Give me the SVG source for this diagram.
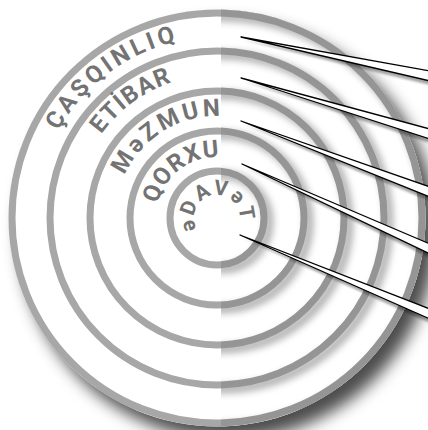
<svg xmlns="http://www.w3.org/2000/svg" width="428" height="430" viewBox="0 0 428 430">
<defs>
<style>
.ring{fill:none;stroke:#a7a7a7;stroke-width:7}
.ringR{fill:none;stroke:#959595;stroke-width:7}
.ringS{fill:none;stroke:#000;stroke-opacity:.3;stroke-width:9}
.lbl{font-family:Roboto,"Open Sans","DejaVu Sans",sans-serif;font-weight:700;fill:#737373}
.needle{fill:#fff;stroke:#000;stroke-width:1.3;stroke-linejoin:round}
</style>
<filter id="blur6" x="-20%" y="-20%" width="140%" height="140%"><feGaussianBlur stdDeviation="8"/></filter>
<filter id="blur3" x="-20%" y="-20%" width="140%" height="140%"><feGaussianBlur stdDeviation="3.5"/></filter>
<filter id="nsh" x="-5%" y="-50%" width="110%" height="200%"><feGaussianBlur stdDeviation="1.2"/></filter>
<clipPath id="rightHalf"><rect x="221" y="0" width="220" height="430"/></clipPath>
<clipPath id="diskClip"><circle cx="217" cy="218" r="208.5"/></clipPath>
<path id="p1" d="M217,399 A181,181 0 1 1 217,37 A181,181 0 1 1 217,399"/>
<path id="p2" d="M217,361 A143,143 0 1 1 217,75 A143,143 0 1 1 217,361"/>
<path id="p3" d="M217,320 A102,102 0 1 1 217,116 A102,102 0 1 1 217,320"/>
<path id="p4" d="M217,279 A61,61 0 1 1 217,157 A61,61 0 1 1 217,279"/>
<path id="p5" d="M217,241 A23,23 0 1 1 217,195 A23,23 0 1 1 217,241"/>
</defs>
<rect width="428" height="430" fill="#fff"/>
<g id="disk">
<circle cx="228" cy="231" r="208.5" fill="#000" fill-opacity=".7" filter="url(#blur6)"/>
<circle cx="217" cy="218" r="208.5" fill="#fff"/>
</g>
<g id="rings">
<g id="rings-left">
<circle class="ring" cx="217" cy="218" r="47"/>
<circle class="ring" cx="217" cy="218" r="87"/>
<circle class="ring" cx="217" cy="218" r="127"/>
<circle class="ring" cx="217" cy="218" r="167"/>
<circle class="ring" cx="217" cy="218" r="205"/>
</g>
<g id="rings-right" clip-path="url(#rightHalf)">
<rect x="221" y="0" width="210" height="430" fill="#fff" clip-path="url(#diskClip)"/>
<g clip-path="url(#diskClip)">
<g filter="url(#blur3)" transform="translate(5,4)">
<circle class="ringS" cx="217" cy="218" r="47"/>
<circle class="ringS" cx="217" cy="218" r="87"/>
<circle class="ringS" cx="217" cy="218" r="127"/>
<circle class="ringS" cx="217" cy="218" r="167"/>
<circle class="ringS" cx="217" cy="218" r="205"/>
</g>
</g>
<circle class="ringR" cx="217" cy="218" r="47"/>
<circle class="ringR" cx="217" cy="218" r="87"/>
<circle class="ringR" cx="217" cy="218" r="127"/>
<circle class="ringR" cx="217" cy="218" r="167"/>
<circle class="ringR" cx="217" cy="218" r="205"/>
</g>
</g>
<g id="label-casqinliq"><text class="lbl" font-size="24"><textPath href="#p1" startOffset="375" textLength="152" lengthAdjust="spacing">ÇAŞQINLIQ</textPath></text></g>
<g id="label-etibar"><text class="lbl" font-size="24"><textPath href="#p2" startOffset="314" textLength="89" lengthAdjust="spacing">ETİBAR</textPath></text></g>
<g id="label-mezmun"><text class="lbl" font-size="24"><textPath href="#p3" startOffset="204" textLength="119" lengthAdjust="spacing">MəZMUN</textPath></text></g>
<g id="label-qorxu"><text class="lbl" font-size="24" letter-spacing="1"><textPath href="#p4" startOffset="152" text-anchor="middle">QORXU</textPath></text></g>
<g id="label-edavet"><text class="lbl" font-size="21"><textPath href="#p5" startOffset="24" textLength="86" lengthAdjust="spacing">əDAVəT</textPath></text></g>
<g id="connectors">
<g filter="url(#nsh)" fill="#000" fill-opacity=".35">
<polygon points="243,40 430,75 430,85"/>
<polygon points="243,81 430,133 430,143"/>
<polygon points="243,124 430,191 430,201"/>
<polygon points="244,167 430,248 430,258"/>
<polygon points="242,238 430,313 430,323"/>
</g>
<polygon class="needle" points="241,37 430,71 430,81"/>
<polygon class="needle" points="241,78 430,129 430,139"/>
<polygon class="needle" points="241,121 430,187 430,197"/>
<polygon class="needle" points="242,164 430,244 430,254"/>
<polygon class="needle" points="240,235 430,309 430,319"/>
</g>
</svg>
